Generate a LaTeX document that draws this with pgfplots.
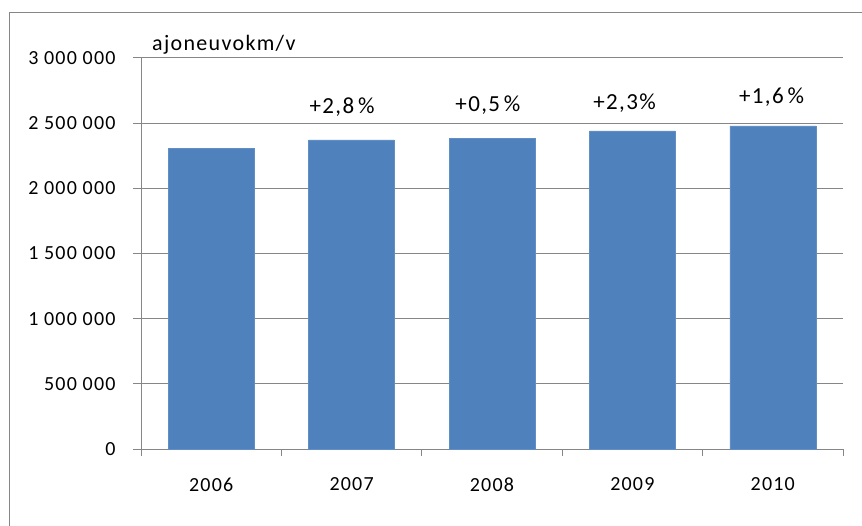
\documentclass[border=0pt]{standalone}
\usepackage{fontspec}
\setmainfont{Carlito}[LetterSpace=6]
\usepackage{pgfplots}
\pgfplotsset{compat=1.18}
\definecolor{barblue}{HTML}{4F81BD}
\definecolor{axgray}{HTML}{868686}
\begin{document}
\begin{tikzpicture}
\useasboundingbox (0pt,0pt) rectangle (862pt,525pt);
\draw[axgray, line width=1pt] (9pt,-5pt) -- (9pt,512pt) -- (870pt,512pt);
\begin{axis}[
  at={(141pt,76pt)}, anchor=south west,
  scale only axis, width=702pt, height=391pt,
  xmin=-0.5, xmax=4.5, ymin=0, ymax=3000000,
  axis x line=bottom, axis y line=left,
  axis line style={-, axgray, line width=1pt},
  xtick={0,1,2,3,4},
  xticklabels={2006,2007,2008,2009,2010},
  major x tick style={draw=none},
  minor xtick={-0.5,0.5,1.5,2.5,3.5,4.5},
  minor x tick style={axgray, line width=1pt},
  minor tick length=7pt,
  ytick={0,500000,1000000,1500000,2000000,2500000,3000000},
  yticklabels={0,500 000,1 000 000,1 500 000,2 000 000,2 500 000,3 000 000},
  scaled y ticks=false,
  major y tick style={axgray, line width=1pt},
  major tick length=8pt,
  tick align=outside,
  ymajorgrids,
  major grid style={axgray, line width=1pt},
  ticklabel style={font=\fontsize{20}{24}\selectfont},
  yticklabel style={xshift=-14pt},
  xticklabel style={yshift=-17pt},
  clip=false,
]
\addplot[ybar, bar width=0.6125, fill=barblue, draw=barblue!90!white] coordinates {
  (0,2307000) (1,2371000) (2,2384000) (3,2440000) (4,2479000)
};
\node[anchor=base, font=\fontsize{23}{27}\selectfont] at (axis cs:0.932,2571000) {+2,8\,\%};
\node[anchor=base, font=\fontsize{23}{27}\selectfont] at (axis cs:1.971,2586000) {+0,5\,\%};
\node[anchor=base, font=\fontsize{23}{27}\selectfont] at (axis cs:2.944,2602000) {+2,3\%};
\node[anchor=base, font=\fontsize{23}{27}\selectfont] at (axis cs:3.991,2648000) {+1,6\,\%};
\node[anchor=base west, inner sep=0pt, font=\fontsize{22}{26}\selectfont] at (axis cs:-0.4217,3057000) {ajoneuvokm/v};
\end{axis}
\end{tikzpicture}
\end{document}
